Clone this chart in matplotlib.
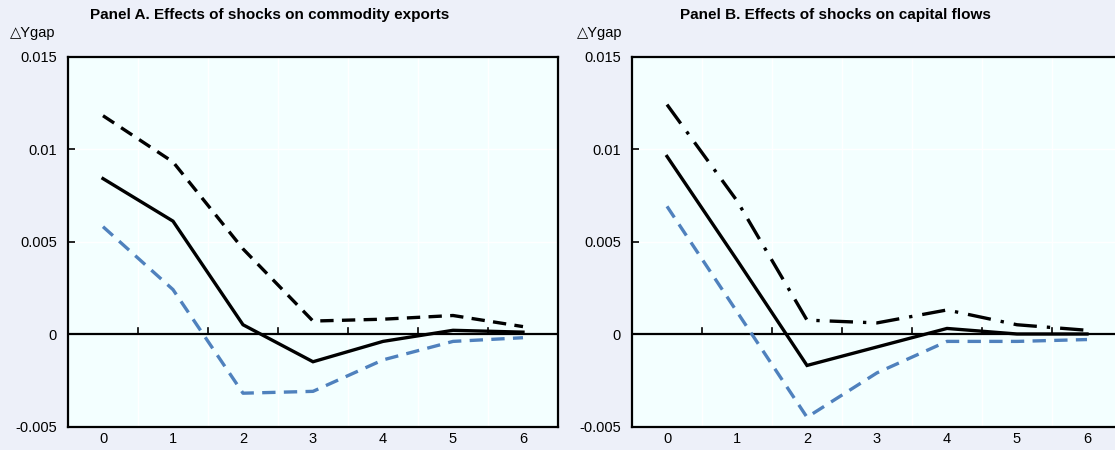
import matplotlib
matplotlib.use("Agg")
import matplotlib.pyplot as plt
import numpy as np

periods = [0, 1, 2, 3, 4, 5, 6]
y_ticks = [-0.005, 0, 0.005, 0.01, 0.015]
y_tick_labels = ["-0.005", "0", "0.005", "0.01", "0.015"]

# Panel A: commodity exports
a_mid = [0.0084, 0.0061, 0.0005, -0.0015, -0.0004, 0.0002, 0.0001]
a_upper = [0.0118, 0.0093, 0.0046, 0.0007, 0.0008, 0.0010, 0.0004]
a_lower = [0.0058, 0.0024, -0.0032, -0.0031, -0.0014, -0.0004, -0.0002]

# Panel B: capital flows
b_mid = [0.0096, 0.0040, -0.0017, -0.0007, 0.0003, 0.0000, 0.0000]
b_upper = [0.0124, 0.0072, 0.00075, 0.0006, 0.0013, 0.0005, 0.0002]
b_lower = [0.0069, 0.0012, -0.0045, -0.0021, -0.0004, -0.0004, -0.0003]

titles = ["Panel A. Effects of shocks on commodity exports",
          "Panel B. Effects of shocks on capital flows"]
ylab = "\u25b3Ygap"

FIG_BG = "#EDF0F9"
AX_BG = "#F3FFFF"
BLUE = "#4F81BD"
FONT = ["Liberation Sans Narrow", "Liberation Sans", "DejaVu Sans"]

fig = plt.figure(figsize=(11.15, 4.5), dpi=100, facecolor=FIG_BG)

W, H = 1115.0, 450.0
positions = [
    (68 / W, 1 - 426.5 / H, (558 - 68) / W, (426.5 - 56.5) / H),
    (632 / W, 1 - 426.5 / H, (1122 - 632) / W, (426.5 - 56.5) / H),
]
panels = [(a_mid, a_upper, a_lower, "dashed"), (b_mid, b_upper, b_lower, "dashdot")]
title_x = [270 / W, 835 / W]
ylab_x = [10 / W, 577 / W]

for i, (pos, (mid, up, lo, upstyle)) in enumerate(zip(positions, panels)):
    ax = fig.add_axes(pos)
    ax.set_facecolor(AX_BG)
    ax.set_xlim(-0.5, 6.5)
    ax.set_ylim(-0.005, 0.015)
    # grid
    for xv in np.arange(0.5, 6.5, 1.0):
        ax.axvline(xv, color="white", lw=1.0, zorder=1)
    for yv in y_ticks[1:-1]:
        ax.axhline(yv, color="white", lw=1.0, zorder=1)
    ax.axhline(0, color="black", lw=1.6, zorder=2)
    # ticks at zero line
    for xv in np.arange(0.5, 6.5, 1.0):
        ax.plot([xv, xv], [0, 0.00035], color="black", lw=1.2, zorder=2)
    ax.plot(periods, mid, color="black", lw=2.4, solid_joinstyle="miter", zorder=4)
    if upstyle == "dashed":
        ax.plot(periods, up, color="black", lw=2.4, dashes=(4, 2.5), zorder=4)
    else:
        ax.plot(periods, up, color="black", lw=2.4, dashes=(7, 3, 1, 3), zorder=4)
    ax.plot(periods, lo, color=BLUE, lw=2.4, dashes=(4, 2.5), zorder=4)

    ax.set_xticks(periods)
    ax.set_xticklabels([str(p) for p in periods], fontsize=10.5, family=FONT)
    ax.tick_params(axis="x", length=0, pad=4)
    ax.set_yticks(y_ticks)
    ax.set_yticklabels(y_tick_labels, fontsize=10.5, family=FONT)
    ax.tick_params(axis="y", direction="in", length=5, width=1.2, pad=8)
    for s in ax.spines.values():
        s.set_color("black")
        s.set_linewidth(1.6)

    fig.text(title_x[i], 1 - 15 / H, titles[i], ha="center", va="center",
             fontsize=11, fontweight="bold", family=FONT)
    fig.text(ylab_x[i], 1 - 33 / H, ylab, ha="left", va="center",
             fontsize=10.5, family=["DejaVu Sans"] if False else FONT)

fig.savefig("out.png", dpi=100, facecolor=FIG_BG)
